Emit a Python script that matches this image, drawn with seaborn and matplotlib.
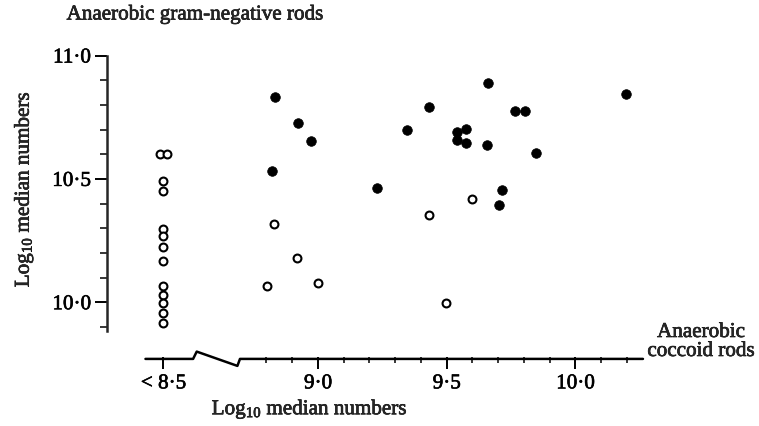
import seaborn as sns
import matplotlib.pyplot as plt
import matplotlib.transforms as mtransforms
import matplotlib.patheffects as pe
import numpy as np
import pandas as pd

# log10 median numbers
# x = anaerobic coccoid rods, y = anaerobic gram-negative rods
filled_x = [8.833, 8.923, 8.972, 8.821, 9.229, 9.347, 9.431, 9.659, 9.764, 9.804,
            9.539, 9.575, 9.539, 9.575, 9.655, 9.845, 10.195, 9.713, 9.701]
filled_y = [10.833, 10.728, 10.655, 10.532, 10.465, 10.698, 10.790, 10.889, 10.777, 10.777,
            10.692, 10.702, 10.658, 10.646, 10.639, 10.606, 10.844, 10.455, 10.394]

# open circles; the column at 8.4 is the "< 8.5" group
open_x = [8.385, 8.415, 8.40, 8.40, 8.40, 8.40, 8.40, 8.40, 8.40, 8.40, 8.40, 8.40, 8.40,
          8.829, 8.920, 8.803, 8.999, 9.431, 9.598, 9.497]
open_y = [10.602, 10.602, 10.490, 10.450, 10.297, 10.270, 10.223, 10.169, 10.065, 10.031,
          9.998, 9.955, 9.915,
          10.316, 10.178, 10.067, 10.077, 10.353, 10.420, 9.998]

x_ticks = [8.4, 9.0, 9.5, 10.0]
x_labels = ["< 8·5", "9·0", "9·5", "10·0"]
y_ticks = [10.0, 10.5, 11.0]
y_labels = ["10·0", "10·5", "11·0"]

filled = pd.DataFrame({"x": filled_x, "y": filled_y})
opened = pd.DataFrame({"x": open_x, "y": open_y})

sns.set_style("ticks")
plt.rcParams["font.family"] = ["Liberation Serif", "DejaVu Serif"]
plt.rcParams["mathtext.fontset"] = "custom"
plt.rcParams["mathtext.rm"] = "Liberation Serif"
plt.rcParams["mathtext.it"] = "Liberation Serif:italic"

fs = 15.2
ink = [pe.withStroke(linewidth=0.45, foreground="black")]

fig = plt.figure(figsize=(7.59, 4.27), dpi=100)
ax = fig.add_axes([107 / 759, 69 / 427, 593 / 759, 318 / 427])

sns.scatterplot(data=filled, x="x", y="y", ax=ax, color="black", s=48,
                edgecolor="black", linewidth=0.5, zorder=3)
sns.scatterplot(data=opened, x="x", y="y", ax=ax, facecolor="white", s=32,
                edgecolor="black", linewidth=1.5, zorder=3)

ax.set_xlim(8.1806, 10.4835)
ax.set_ylim(9.778, 11.067)

for side in ["top", "right", "bottom"]:
    ax.spines[side].set_visible(False)
ax.spines["left"].set_linewidth(1.8)
ax.spines["left"].set_bounds(9.885, 11.0)

# broken x axis line
trans = mtransforms.blended_transform_factory(ax.transData, ax.transAxes)
ax.plot([8.33, 8.515, 8.529, 8.687, 8.697, 10.262],
        [-0.006, -0.006, 0.017, -0.028, -0.006, -0.006],
        color="black", lw=1.8, transform=trans, clip_on=False, zorder=2)

ax.set_xticks(x_ticks, x_labels)
ax.set_xticks([v for v in np.round(np.arange(8.8, 10.25, 0.1), 1) if v not in x_ticks], minor=True)
ax.set_yticks(y_ticks, y_labels)
ax.set_yticks([v for v in np.round(np.arange(9.9, 10.95, 0.1), 1) if v not in y_ticks], minor=True)

ax.tick_params(axis="both", which="major", direction="out", length=8.5, width=1.4,
               labelsize=fs, color="black", labelcolor="black")
ax.tick_params(axis="x", which="major", pad=4)
ax.tick_params(axis="y", which="major", pad=3)
ax.tick_params(axis="x", which="minor", direction="out", length=4.5, width=1.3)
ax.tick_params(axis="y", which="minor", direction="out", length=5, width=1.3)
for lab in ax.get_xticklabels() + ax.get_yticklabels():
    lab.set_path_effects(ink)

ax.set_xlabel(r"Log$_{10}$ median numbers", fontsize=fs, path_effects=ink)
ax.xaxis.set_label_coords(0.342, -0.13)
ax.set_ylabel(r"Log$_{10}$ median numbers", fontsize=fs, path_effects=ink)
ax.yaxis.set_label_coords(-0.12, 0.528)

fig.text(195 / 759, 1 - 16 / 427, "Anaerobic gram-negative rods", ha="center", va="center",
         fontsize=fs, path_effects=ink)
fig.text(701 / 759, 1 - 343 / 427, "Anaerobic\ncoccoid rods", ha="center", va="center",
         fontsize=fs, linespacing=1.0, path_effects=ink)

fig.savefig("out.png", dpi=100)
